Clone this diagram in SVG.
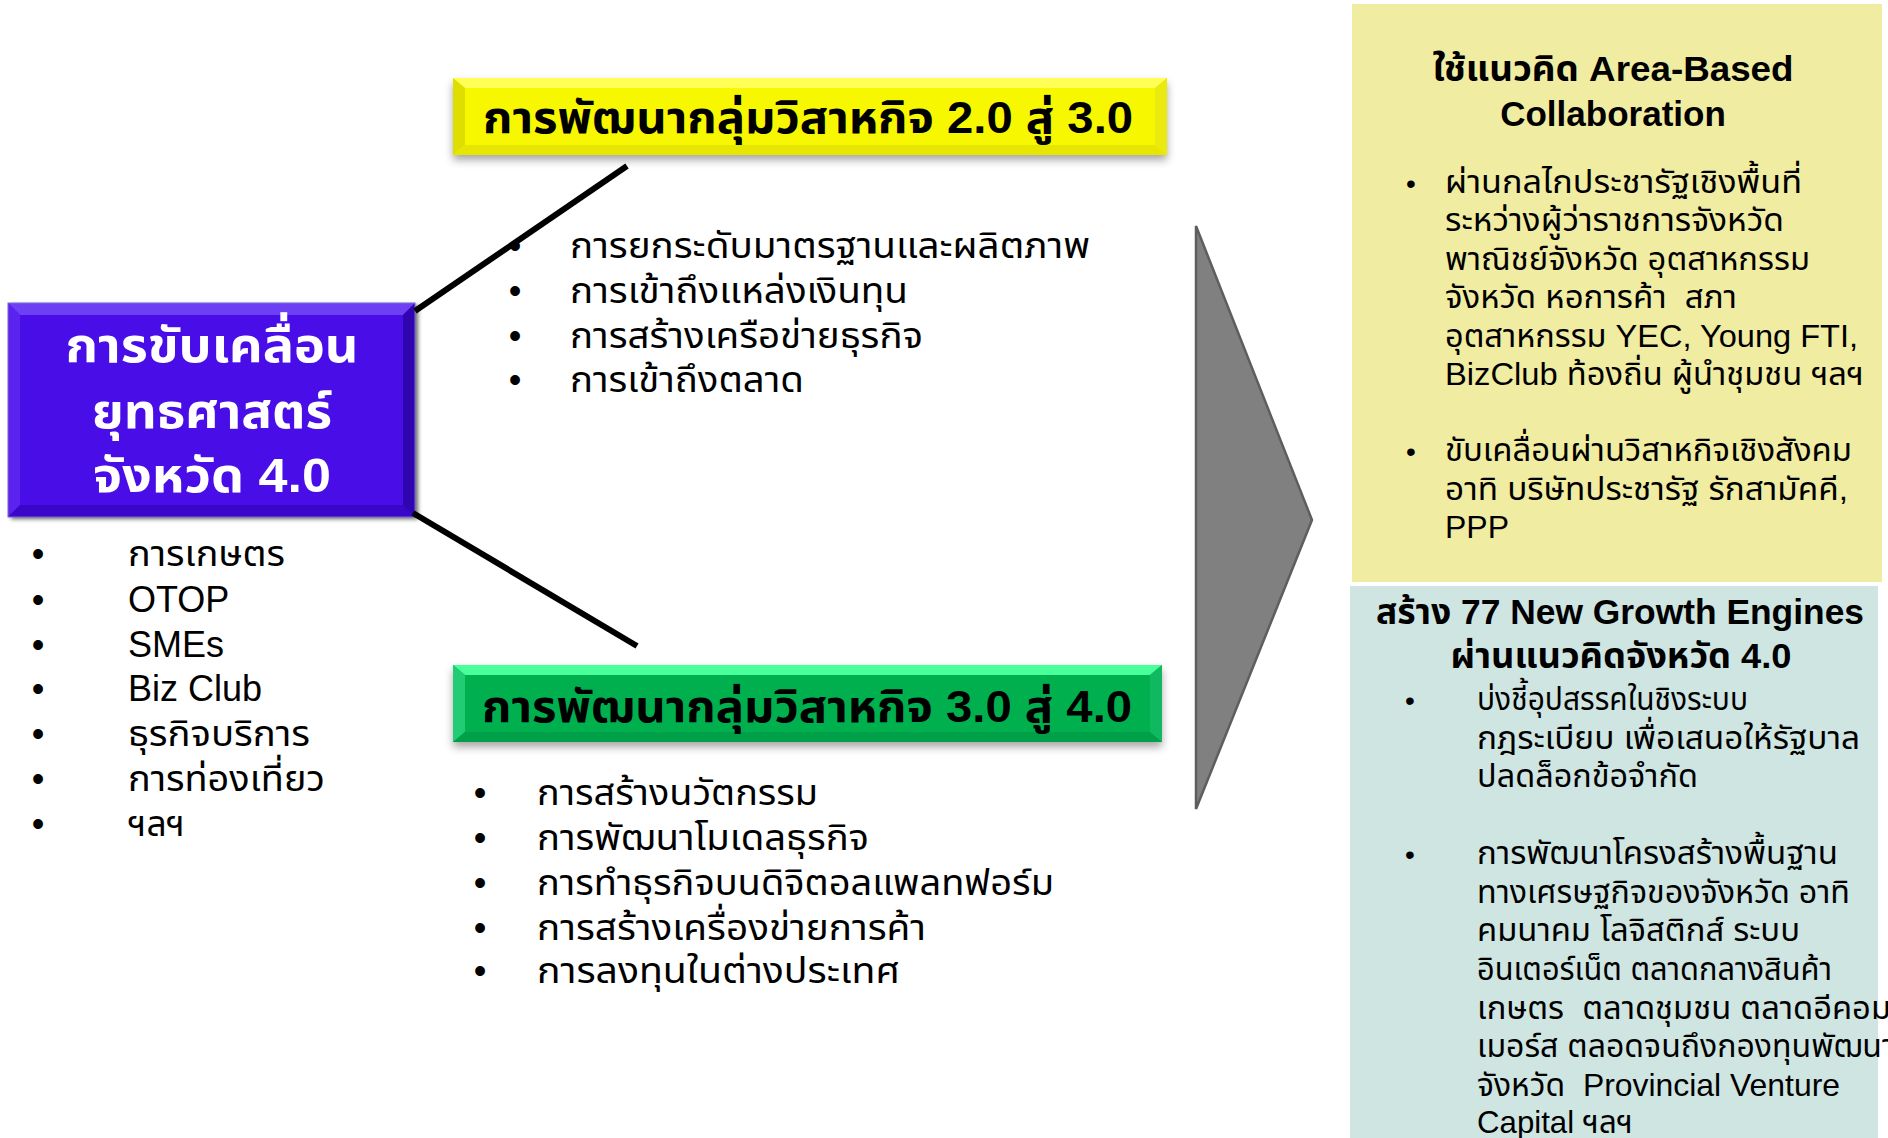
<svg xmlns="http://www.w3.org/2000/svg" width="1888" height="1138" viewBox="0 0 1888 1138">
<defs>
<filter id="sh" x="-5%" y="-20%" width="110%" height="160%">
<feDropShadow dx="0" dy="5" stdDeviation="4" flood-color="#000" flood-opacity="0.35"/>
</filter>
<filter id="shb" x="-5%" y="-5%" width="115%" height="115%">
<feDropShadow dx="3" dy="2" stdDeviation="2" flood-color="#000" flood-opacity="0.6"/>
</filter>
</defs>
<style>
text{font-family:"Liberation Sans","Noto Sans Thai","Noto Sans",sans-serif;fill:#000}
.t{font-size:36px}
.b{font-size:36px}
.r{font-size:32px}
.rb{font-size:28px}
.hd{font-size:35px;font-weight:bold;text-anchor:middle}
.bx{font-size:44px;font-weight:bold}
.wh{fill:#fff;font-size:48px;font-weight:bold;text-anchor:middle}
.conn{stroke:#000;stroke-width:6;fill:none}
</style>
<rect width="1888" height="1138" fill="#fff"/>

<g id="node-strategy">
<g filter="url(#shb)">
<rect x="8" y="303" width="407" height="214" fill="#4A0AE8"/>
</g>
<polygon points="8,303 415,303 403,315 20,315" fill="#6E40F3"/>
<polygon points="8,303 20,315 20,505 8,517" fill="#5A24EE"/>
<polygon points="8,517 20,505 403,505 415,517" fill="#3A06C8"/>
<polygon points="415,303 403,315 403,505 415,517" fill="#3005B0"/>
<rect x="8" y="303" width="407" height="214" fill="none" stroke="#7B68D8" stroke-width="1"/>
<text class="wh" x="212" y="362" textLength="293" lengthAdjust="spacingAndGlyphs">การขับเคลื่อน</text>
<text class="wh" x="212" y="428" textLength="240" lengthAdjust="spacingAndGlyphs">ยุทธศาสตร์</text>
<text class="wh" x="212" y="492" textLength="238" lengthAdjust="spacingAndGlyphs">จังหวัด 4.0</text>
</g>

<g id="list-sectors">
<text class="b" x="38" y="566" text-anchor="middle">•</text>
<text class="b" x="38" y="612" text-anchor="middle">•</text>
<text class="b" x="38" y="657" text-anchor="middle">•</text>
<text class="b" x="38" y="701" text-anchor="middle">•</text>
<text class="b" x="38" y="746" text-anchor="middle">•</text>
<text class="b" x="38" y="791" text-anchor="middle">•</text>
<text class="b" x="38" y="836" text-anchor="middle">•</text>
<text class="t" x="128" y="566" textLength="157" lengthAdjust="spacingAndGlyphs">การเกษตร</text>
<text class="t" x="128" y="612">OTOP</text>
<text class="t" x="128" y="657">SMEs</text>
<text class="t" x="128" y="701">Biz Club</text>
<text class="t" x="128" y="746" textLength="182" lengthAdjust="spacingAndGlyphs">ธุรกิจบริการ</text>
<text class="t" x="128" y="791" textLength="197" lengthAdjust="spacingAndGlyphs">การท่องเที่ยว</text>
<text class="t" x="128" y="836" textLength="57" lengthAdjust="spacingAndGlyphs">ฯลฯ</text>
</g>

<g id="node-2to3">
<rect x="453" y="78" width="714" height="77" fill="#F7F700" filter="url(#sh)"/>
<polygon points="453,78 1167,78 1155,88 465,88" fill="#FFFF55"/>
<polygon points="453,78 465,88 465,145 453,155" fill="#DEDE00"/>
<polygon points="453,155 465,145 1155,145 1167,155" fill="#E6E600"/>
<polygon points="1167,78 1155,88 1155,145 1167,155" fill="#EAEA10"/>
<text class="bx" x="483" y="133" textLength="650" lengthAdjust="spacingAndGlyphs">การพัฒนากลุ่มวิสาหกิจ 2.0 สู่ 3.0</text>
</g>

<g id="list-2to3">
<text class="b" x="515" y="258" text-anchor="middle">•</text>
<text class="b" x="515" y="303" text-anchor="middle">•</text>
<text class="b" x="515" y="348" text-anchor="middle">•</text>
<text class="b" x="515" y="392" text-anchor="middle">•</text>
<text class="t" x="570" y="258" textLength="520" lengthAdjust="spacingAndGlyphs">การยกระดับมาตรฐานและผลิตภาพ</text>
<text class="t" x="570" y="303" textLength="338" lengthAdjust="spacingAndGlyphs">การเข้าถึงแหล่งเงินทุน</text>
<text class="t" x="570" y="348" textLength="353" lengthAdjust="spacingAndGlyphs">การสร้างเครือข่ายธุรกิจ</text>
<text class="t" x="570" y="392" textLength="234" lengthAdjust="spacingAndGlyphs">การเข้าถึงตลาด</text>
</g>

<g id="node-3to4">
<rect x="453" y="665" width="709" height="77" fill="#00B050" filter="url(#sh)"/>
<polygon points="453,665 1162,665 1150,675 465,675" fill="#48FF9A"/>
<polygon points="453,665 465,675 465,732 453,742" fill="#22CC74"/>
<polygon points="453,742 465,732 1150,732 1162,742" fill="#00A048"/>
<polygon points="1162,665 1150,675 1150,732 1162,742" fill="#10B860"/>
<text class="bx" x="482" y="722" textLength="650" lengthAdjust="spacingAndGlyphs">การพัฒนากลุ่มวิสาหกิจ 3.0 สู่ 4.0</text>
</g>

<g id="list-3to4">
<text class="b" x="480" y="805" text-anchor="middle">•</text>
<text class="b" x="480" y="850" text-anchor="middle">•</text>
<text class="b" x="480" y="895" text-anchor="middle">•</text>
<text class="b" x="480" y="940" text-anchor="middle">•</text>
<text class="b" x="480" y="983" text-anchor="middle">•</text>
<text class="t" x="537" y="805" textLength="281" lengthAdjust="spacingAndGlyphs">การสร้างนวัตกรรม</text>
<text class="t" x="537" y="850" textLength="332" lengthAdjust="spacingAndGlyphs">การพัฒนาโมเดลธุรกิจ</text>
<text class="t" x="537" y="895" textLength="517" lengthAdjust="spacingAndGlyphs">การทำธุรกิจบนดิจิตอลแพลทฟอร์ม</text>
<text class="t" x="537" y="940" textLength="389" lengthAdjust="spacingAndGlyphs">การสร้างเครื่องข่ายการค้า</text>
<text class="t" x="537" y="983" textLength="363" lengthAdjust="spacingAndGlyphs">การลงทุนในต่างประเทศ</text>
</g>

<g id="connectors">
<line class="conn" x1="415" y1="311" x2="627" y2="166"/>
<line class="conn" x1="413" y1="513" x2="637" y2="646"/>
</g>

<g id="node-arrow">
<polygon points="1196,226 1312,520 1196,809" fill="#808080" stroke="#5E5E5E" stroke-width="2.5" stroke-linejoin="miter"/>
</g>

<g id="node-area-based">
<rect x="1352" y="4" width="530" height="578" fill="#F0ECA2"/>
<text class="hd" x="1613" y="81" textLength="361" lengthAdjust="spacingAndGlyphs">ใช้แนวคิด Area-Based</text>
<text class="hd" x="1613" y="126">Collaboration</text>
<text class="rb" x="1411" y="193" text-anchor="middle">•</text>
<text class="rb" x="1411" y="461" text-anchor="middle">•</text>
<text class="r" x="1445" y="193" textLength="357" lengthAdjust="spacingAndGlyphs">ผ่านกลไกประชารัฐเชิงพื้นที่</text>
<text class="r" x="1445" y="231" textLength="339" lengthAdjust="spacingAndGlyphs">ระหว่างผู้ว่าราชการจังหวัด</text>
<text class="r" x="1445" y="270" textLength="365" lengthAdjust="spacingAndGlyphs">พาณิชย์จังหวัด อุตสาหกรรม</text>
<text class="r" x="1445" y="308" xml:space="preserve" textLength="292" lengthAdjust="spacingAndGlyphs">จังหวัด หอการค้า  สภา</text>
<text class="r" x="1445" y="347" textLength="413" lengthAdjust="spacingAndGlyphs">อุตสาหกรรม YEC, Young FTI,</text>
<text class="r" x="1445" y="385" textLength="419" lengthAdjust="spacingAndGlyphs">BizClub ท้องถิ่น ผู้นำชุมชน ฯลฯ</text>
<text class="r" x="1445" y="461" textLength="407" lengthAdjust="spacingAndGlyphs">ขับเคลื่อนผ่านวิสาหกิจเชิงสังคม</text>
<text class="r" x="1445" y="500" textLength="403" lengthAdjust="spacingAndGlyphs">อาทิ บริษัทประชารัฐ รักสามัคคี,</text>
<text class="r" x="1445" y="538">PPP</text>
</g>

<g id="node-growth-engines">
<rect x="1350" y="586" width="528" height="552" fill="#CFE5E1"/>
<text class="hd" x="1620" y="624" textLength="488" lengthAdjust="spacingAndGlyphs">สร้าง 77 New Growth Engines</text>
<text class="hd" x="1621" y="668" textLength="341" lengthAdjust="spacingAndGlyphs">ผ่านแนวคิดจังหวัด 4.0</text>
<text class="rb" x="1410" y="710" text-anchor="middle">•</text>
<text class="rb" x="1410" y="864" text-anchor="middle">•</text>
<text class="r" x="1477" y="710" textLength="271" lengthAdjust="spacingAndGlyphs">บ่งชี้อุปสรรคในชิงระบบ</text>
<text class="r" x="1477" y="749" textLength="383" lengthAdjust="spacingAndGlyphs">กฎระเบียบ เพื่อเสนอให้รัฐบาล</text>
<text class="r" x="1477" y="787" textLength="221" lengthAdjust="spacingAndGlyphs">ปลดล็อกข้อจำกัด</text>
<text class="r" x="1477" y="864" textLength="361" lengthAdjust="spacingAndGlyphs">การพัฒนาโครงสร้างพื้นฐาน</text>
<text class="r" x="1477" y="903" textLength="373" lengthAdjust="spacingAndGlyphs">ทางเศรษฐกิจของจังหวัด อาทิ</text>
<text class="r" x="1477" y="941" textLength="323" lengthAdjust="spacingAndGlyphs">คมนาคม โลจิสติกส์ ระบบ</text>
<text class="r" x="1477" y="980" textLength="355" lengthAdjust="spacingAndGlyphs">อินเตอร์เน็ต ตลาดกลางสินค้า</text>
<text class="r" x="1477" y="1019" xml:space="preserve" textLength="414" lengthAdjust="spacingAndGlyphs">เกษตร  ตลาดชุมชน ตลาดอีคอม</text>
<text class="r" x="1477" y="1057" textLength="418" lengthAdjust="spacingAndGlyphs">เมอร์ส ตลอดจนถึงกองทุนพัฒนา</text>
<text class="r" x="1477" y="1096" xml:space="preserve" textLength="363" lengthAdjust="spacingAndGlyphs">จังหวัด  Provincial Venture</text>
<text class="r" x="1477" y="1133" textLength="156" lengthAdjust="spacingAndGlyphs">Capital ฯลฯ</text>
</g>
</svg>
